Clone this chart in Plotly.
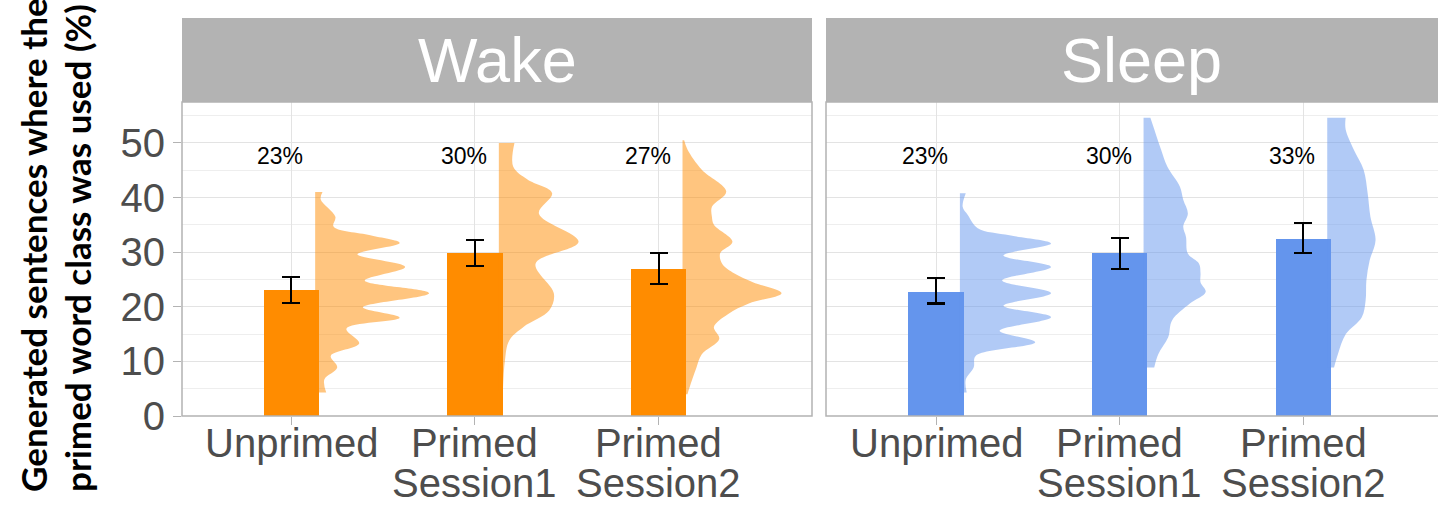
import plotly.graph_objects as go

# ---------------- data ----------------
categories = ["Unprimed", "Primed\nSession1", "Primed\nSession2"]
cat_pos = [1, 2, 3]
conditions = ["Wake", "Sleep"]

wake_mean = [23.0, 29.8, 27.0]
wake_upper = [25.5, 32.3, 29.9]
wake_lower = [20.7, 27.4, 24.1]
sleep_mean = [22.7, 29.8, 32.4]
sleep_upper = [25.2, 32.6, 35.3]
sleep_lower = [20.6, 26.9, 29.8]
wake_pct = ["23%", "30%", "27%"]
sleep_pct = ["23%", "30%", "33%"]

# half-violin outlines: y (%) and half-width (category units)
wake_unprimed_y = [41.0, 39.7, 36.5, 34.7, 33.1, 31.7, 29.6, 27.3, 24.8, 22.5, 19.9, 18.0, 16.0, 13.3, 11.0, 8.9, 6.7, 4.3]
wake_unprimed_w = [0.04, 0.03, 0.11, 0.10, 0.30, 0.46, 0.23, 0.49, 0.27, 0.62, 0.26, 0.46, 0.17, 0.24, 0.085, 0.12, 0.05, 0.06]
wake_s1_y = [50.0, 45.7, 43.3, 40.8, 37.1, 31.9, 27.9, 22.4, 19.3, 16.3, 13.8, 10.1, 4.6]
wake_s1_w = [0.085, 0.078, 0.156, 0.29, 0.218, 0.434, 0.20, 0.30, 0.274, 0.134, 0.056, 0.033, 0.022]
wake_s2_y = [50.5, 48.8, 45.1, 41.1, 38.3, 36.5, 35.0, 31.9, 29.8, 27.9, 26.1, 24.5, 22.5, 20.6, 18.7, 16.3, 14.1, 11.3, 8.9, 5.2, 4.0]
wake_s2_w = [0.009, 0.027, 0.105, 0.238, 0.16, 0.16, 0.171, 0.272, 0.205, 0.216, 0.283, 0.383, 0.539, 0.361, 0.249, 0.171, 0.20, 0.105, 0.076, 0.038, 0.027]
sleep_unprimed_y = [40.8, 38.3, 36.8, 34.4, 33.1, 31.6, 29.4, 27.3, 24.8, 22.5, 20.2, 18.1, 15.6, 13.5, 11.0, 8.9, 6.7, 4.3]
sleep_unprimed_w = [0.032, 0.015, 0.043, 0.097, 0.27, 0.496, 0.237, 0.496, 0.23, 0.496, 0.237, 0.496, 0.216, 0.41, 0.086, 0.075, 0.032, 0.037]
sleep_s1_y = [54.6, 51.8, 48.8, 45.7, 42.0, 39.6, 37.1, 34.7, 32.8, 29.75, 27.9, 26.1, 24.5, 22.7, 20.6, 17.5, 14.4, 11.3, 8.9]
sleep_s1_w = [0.037, 0.065, 0.095, 0.129, 0.198, 0.216, 0.241, 0.216, 0.231, 0.241, 0.302, 0.31, 0.31, 0.338, 0.252, 0.155, 0.134, 0.08, 0.058]
sleep_s2_y = [54.6, 52.5, 48.8, 45.1, 40.8, 36.5, 32.2, 28.5, 24.8, 21.2, 18.1, 15.0, 11.3, 8.9]
sleep_s2_w = [0.10, 0.10, 0.144, 0.198, 0.22, 0.235, 0.263, 0.231, 0.213, 0.209, 0.188, 0.101, 0.058, 0.037]

y_title_lines = ["Generated sentences where the", "primed word class was used (%)"]
y_ticks = [0, 10, 20, 30, 40, 50]
y_minor = [5, 15, 25, 35, 45, 55]

# ---------------- style ----------------
W, H = 1438, 506
BAR_W = 0.30
VIO_OFF = 0.13
GRID = "#e3e3e3"
GRID_MINOR = "#eeeeee"
BORDER = "#b3b3b3"
TEXT = "#4d4d4d"
FONT = "Liberation Sans, Arial, sans-serif"

panels = [
    dict(name="Wake", xa="x", ya="y", mean=wake_mean, up=wake_upper, lo=wake_lower, pct=wake_pct,
         bar="#FF8C00", vio="rgba(255,140,0,0.5)",
         dens=[(wake_unprimed_y, wake_unprimed_w), (wake_s1_y, wake_s1_w), (wake_s2_y, wake_s2_w)]),
    dict(name="Sleep", xa="x2", ya="y2", mean=sleep_mean, up=sleep_upper, lo=sleep_lower, pct=sleep_pct,
         bar="#6495ED", vio="rgba(100,149,237,0.5)",
         dens=[(sleep_unprimed_y, sleep_unprimed_w), (sleep_s1_y, sleep_s1_w), (sleep_s2_y, sleep_s2_w)]),
]

def px_x(p):
    return p / W

def px_y(p):
    return (H - p) / H

fig = go.Figure()

for p in panels:
    for pos, (dy, dw) in zip(cat_pos, p["dens"]):
        base = pos + VIO_OFF
        fig.add_trace(go.Scatter(x=[base] * len(dy), y=dy, mode="lines", line=dict(width=0),
                                 xaxis=p["xa"], yaxis=p["ya"], showlegend=False, hoverinfo="skip"))
        fig.add_trace(go.Scatter(x=[base + w for w in dw], y=dy, mode="lines",
                                 line=dict(width=0, shape="spline", smoothing=1.0),
                                 fill="tonextx", fillcolor=p["vio"],
                                 xaxis=p["xa"], yaxis=p["ya"], showlegend=False, hoverinfo="skip"))
    fig.add_trace(go.Bar(
        x=cat_pos, y=p["mean"], width=BAR_W, marker=dict(color=p["bar"], line=dict(width=0)),
        error_y=dict(type="data", symmetric=False,
                     array=[u - m for u, m in zip(p["up"], p["mean"])],
                     arrayminus=[m - l for m, l in zip(p["mean"], p["lo"])],
                     color="black", thickness=2.2, width=9),
        xaxis=p["xa"], yaxis=p["ya"], showlegend=False, hoverinfo="skip"))

# panel geometry (pixels)
P1_L, P1_R = 182, 812
P2_L = 826
TOP, BOT = 102, 416
STRIP_T = 18
PXU = (P1_R - P1_L) / (3.835 - 0.405)
x1_range = [0.405, 3.835]
x2_range = [0.401, 0.401 + (W - P2_L) / PXU]

axis_common = dict(showgrid=True, gridcolor=GRID, gridwidth=1.3, zeroline=False, showline=False,
                   tickvals=cat_pos, ticktext=["", "", ""], ticks="outside", ticklen=8,
                   tickcolor=BORDER, tickwidth=1.3, automargin=False)
fig.update_layout(
    width=W, height=H, margin=dict(l=0, r=0, t=0, b=0, autoexpand=False),
    paper_bgcolor="white", plot_bgcolor="white",
    bargap=0, barmode="overlay",
    xaxis=dict(domain=[px_x(P1_L), px_x(P1_R)], range=x1_range, anchor="y", **axis_common),
    xaxis2=dict(domain=[px_x(P2_L), 1.0], range=x2_range, anchor="y2", **axis_common),
    yaxis=dict(domain=[px_y(BOT), px_y(TOP)], range=[0, 57.5], anchor="x", automargin=False,
               tickvals=y_ticks, ticks="outside", ticklen=8, tickcolor=BORDER, tickwidth=1.3,
               tickfont=dict(size=40, color=TEXT, family=FONT),
               showgrid=True, gridcolor=GRID, gridwidth=1.3, zeroline=False, showline=False,
               minor=dict(tickvals=y_minor, showgrid=True, gridcolor=GRID_MINOR, gridwidth=1, ticks="")),
    yaxis2=dict(domain=[px_y(BOT), px_y(TOP)], range=[0, 57.5], anchor="x2", matches="y", automargin=False,
                tickvals=y_ticks, showticklabels=False, ticks="",
                showgrid=True, gridcolor=GRID, gridwidth=1.3, zeroline=False, showline=False,
                minor=dict(tickvals=y_minor, showgrid=True, gridcolor=GRID_MINOR, gridwidth=1, ticks="")),
)

shapes = []
annots = []
for p, (L, R) in zip(panels, [(P1_L, P1_R), (P2_L, W + 40)]):
    # strip
    shapes.append(dict(type="rect", xref="paper", yref="paper", x0=px_x(L), x1=px_x(R),
                       y0=px_y(TOP), y1=px_y(STRIP_T), fillcolor=BORDER, line=dict(width=0), layer="below"))
    # panel border
    shapes.append(dict(type="rect", xref="paper", yref="paper", x0=px_x(L), x1=px_x(R),
                       y0=px_y(BOT), y1=px_y(TOP), fillcolor="rgba(0,0,0,0)",
                       line=dict(color=BORDER, width=1.5), layer="above"))
    cx = L + (P1_R - P1_L) / 2
    annots.append(dict(text=p["name"], xref="paper", yref="paper", x=px_x(cx), y=px_y(60),
                       xanchor="center", yanchor="middle", showarrow=False,
                       font=dict(size=63, color="white", family=FONT)))
    # percent labels
    for pos, t in zip(cat_pos, p["pct"]):
        annots.append(dict(text=t, xref=p["xa"], yref=p["ya"], x=pos - 0.06, y=47.7,
                           xanchor="center", yanchor="middle", showarrow=False,
                           font=dict(size=23, color="black", family=FONT)))
    # category labels (tight line spacing: base font sets spacing, span sets glyph size)
    for pos, cat in zip(cat_pos, categories):
        txt = "<br>".join("<span style='font-size:40px'>" + ln + "</span>" for ln in cat.split("\n"))
        annots.append(dict(text=txt, xref=p["xa"], yref="paper", x=pos, y=px_y(419),
                           xanchor="center", yanchor="top", showarrow=False,
                           font=dict(size=31, color=TEXT, family=FONT)))

# y-axis title (two rotated lines)
for line, cxp in zip(y_title_lines, [33, 77]):
    annots.append(dict(text="<b>" + line + "</b>", xref="paper", yref="paper", x=px_x(cxp), y=px_y(494),
                       xanchor="center", yanchor="bottom", textangle=-90, showarrow=False,
                       font=dict(size=35, color="black", family="Lato, Open Sans, sans-serif")))

fig.update_layout(shapes=shapes, annotations=annots)
fig.write_html("out.html")
